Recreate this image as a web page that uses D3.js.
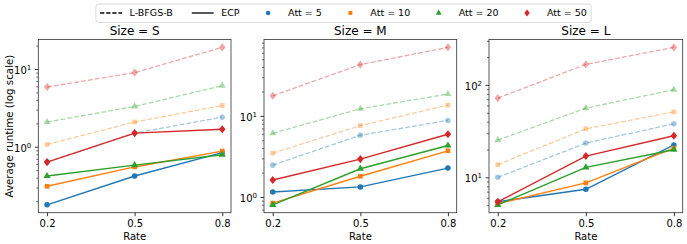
<!DOCTYPE html>
<html>
<head>
<meta charset="utf-8">
<script src="https://cdn.jsdelivr.net/npm/d3@7"></script>
<style>
  body { margin: 0; background: #fff; }
  text { font-family: "DejaVu Sans", sans-serif; fill: #000; }
</style>
</head>
<body>
<svg id="chart" width="687" height="244"></svg>
<script>
const RATES = [0.2, 0.5, 0.8]
const ATTS = [5, 10, 20, 50]
const SIZES = ['S', 'M', 'L']

// rows follow ATTS, columns follow RATES
const LBFGS_S = [[0.635, 1.5, 2.4], [1.07, 2.08, 3.4], [2.08, 3.3, 6.1], [5.87, 9.0, 19.0]]
const ECP_S = [[0.179, 0.42, 0.84], [0.31, 0.55, 0.88], [0.42, 0.58, 0.79], [0.635, 1.5, 1.68]]
const LBFGS_M = [[2.47, 5.77, 8.8], [3.47, 7.59, 13.6], [6.1, 12.25, 18.6], [17.7, 42.9, 70]]
const ECP_M = [[1.15, 1.33, 2.27], [0.84, 1.8, 3.71], [0.8, 2.23, 4.31], [1.62, 2.93, 5.93]]
const LBFGS_L = [[10.0, 23.5, 37.9], [13.7, 33.5, 51.1], [25.3, 56, 89], [71.9, 167, 255]]
const ECP_L = [[5.45, 7.43, 22.4], [5.2, 8.7, 20.7], [5.04, 12.8, 19.9], [5.43, 17.0, 28.2]]

const LBFGS = [LBFGS_S, LBFGS_M, LBFGS_L]
const ECP = [ECP_S, ECP_M, ECP_L]

const COLORS = ['#1f77b4', '#ff7f0e', '#2ca02c', '#d62728']

const W = 687
const TOP = 39.5
const BOTTOM = 212.7
const PANELS = [[38.3, 231], [264, 456.7], [489, 682.7]]

const svg = d3.select('#chart')

// diamond a bit taller than wide, like matplotlib 'D' at small size
const diamond = {
  draw (ctx, size) {
    const h = Math.sqrt(size) * 0.8
    const w = h * 0.8
    ctx.moveTo(0, -h)
    ctx.lineTo(w, 0)
    ctx.lineTo(0, h)
    ctx.lineTo(-w, 0)
    ctx.closePath()
  }
}
const SHAPES = [d3.symbolCircle, d3.symbolSquare, d3.symbolTriangle, diamond]
const SIZES_PX = [24, 22, 22, 26]

function marker (i, scale = 1) {
  return d3.symbol().type(SHAPES[i]).size(SIZES_PX[i] * scale)()
}

function logDomain (values) {
  const lo = Math.log10(d3.min(values))
  const hi = Math.log10(d3.max(values))
  const pad = (hi - lo) * 0.05
  return [10 ** (lo - pad), 10 ** (hi + pad)]
}

function drawPanel (p) {
  const [left, right] = PANELS[p]
  const x = d3.scaleLinear().domain([0.17, 0.83]).range([left, right])
  const all = LBFGS[p].flat().concat(ECP[p].flat())
  const y = d3.scaleLog().domain(logDomain(all)).range([BOTTOM, TOP])
  const g = svg.append('g')

  // minor ticks
  const [d0, d1] = y.domain()
  const minor = []
  const major = []
  for (let e = Math.floor(Math.log10(d0)); e <= Math.ceil(Math.log10(d1)); e++) {
    for (let m = 1; m < 10; m++) {
      const v = m * 10 ** e
      if (v < d0 || v > d1) continue
      if (m === 1) major.push(v)
      else minor.push(v)
    }
  }
  g.append('g')
    .attr('transform', `translate(${left},0)`)
    .call(d3.axisLeft(y).tickValues(minor).tickSize(2).tickFormat(''))
    .call(a => a.select('.domain').remove())
    .selectAll('line').attr('stroke', '#000').attr('stroke-width', 0.6)

  const yAxis = g.append('g')
    .attr('transform', `translate(${left},0)`)
    .call(d3.axisLeft(y).tickValues(major).tickSize(3.5).tickPadding(3.5).tickFormat(''))
  yAxis.select('.domain').remove()
  yAxis.selectAll('line').attr('stroke', '#000').attr('stroke-width', 0.8)
  yAxis.selectAll('.tick text')
    .attr('text-anchor', 'end')
    .attr('font-size', 10)
    .attr('x', -7)
    .attr('dy', '0.45em')
    .each(function (d) {
      const t = d3.select(this)
      t.append('tspan').text('10')
      t.append('tspan').attr('font-size', 7).attr('dy', '-0.6em').text(Math.round(Math.log10(d)))
    })

  const xAxis = g.append('g')
    .attr('transform', `translate(0,${BOTTOM})`)
    .call(d3.axisBottom(x).tickValues(RATES).tickSize(3.5).tickPadding(3.5).tickFormat(d3.format('.1f')))
  xAxis.select('.domain').remove()
  xAxis.selectAll('line').attr('stroke', '#000').attr('stroke-width', 0.8)
  xAxis.selectAll('text').attr('font-size', 10).attr('font-family', '"DejaVu Sans", sans-serif')

  g.append('text')
    .attr('x', (left + right) / 2)
    .attr('y', 239.5)
    .attr('text-anchor', 'middle')
    .attr('font-size', 10)
    .text('Rate')

  g.append('text')
    .attr('x', (left + right) / 2)
    .attr('y', 34.5)
    .attr('text-anchor', 'middle')
    .attr('font-size', 12)
    .text(`Size = ${SIZES[p]}`)

  const line = d3.line().x((d, i) => x(RATES[i])).y(d => y(d))

  // L-BFGS-B: dashed, faded
  LBFGS[p].forEach((row, i) => {
    g.append('path')
      .attr('d', line(row))
      .attr('fill', 'none')
      .attr('stroke', COLORS[i])
      .attr('stroke-opacity', 0.4)
      .attr('stroke-width', 1.3)
      .attr('stroke-dasharray', '4.8,2.1')
    g.selectAll(null).data(row).enter().append('path')
      .attr('d', marker(i))
      .attr('transform', (d, k) => `translate(${x(RATES[k])},${y(d)})`)
      .attr('fill', COLORS[i])
      .attr('fill-opacity', 0.4)
  })

  // ECP: solid
  ECP[p].forEach((row, i) => {
    g.append('path')
      .attr('d', line(row))
      .attr('fill', 'none')
      .attr('stroke', COLORS[i])
      .attr('stroke-width', 1.4)
    g.selectAll(null).data(row).enter().append('path')
      .attr('d', marker(i))
      .attr('transform', (d, k) => `translate(${x(RATES[k])},${y(d)})`)
      .attr('fill', COLORS[i])
  })

  g.append('rect')
    .attr('x', left)
    .attr('y', TOP)
    .attr('width', right - left)
    .attr('height', BOTTOM - TOP)
    .attr('fill', 'none')
    .attr('stroke', '#333')
    .attr('stroke-width', 0.8)
}

PANELS.forEach((d, p) => drawPanel(p))

svg.append('text')
  .attr('transform', `translate(9.5,${(TOP + BOTTOM) / 2}) rotate(-90)`)
  .attr('text-anchor', 'middle')
  .attr('dy', '0.35em')
  .attr('font-size', 10.3)
  .text('Average runtime (log scale)')

// legend
const legend = svg.append('g')
const box = legend.append('rect')
const FS = 9.5
const entries = [
  { label: 'L-BFGS-B', kind: 'dash' },
  { label: 'ECP', kind: 'solid' }
].concat(ATTS.map((a, i) => ({ label: `Att = ${a}`, kind: 'marker', i })))

let cx = 0
const LY = 13
entries.forEach(e => {
  const h = legend.append('g').attr('transform', `translate(${cx},0)`)
  if (e.kind === 'marker') {
    h.append('path')
      .attr('d', marker(e.i, 0.7))
      .attr('transform', `translate(${FS},${LY})`)
      .attr('fill', COLORS[e.i])
  } else {
    h.append('line')
      .attr('x1', 0).attr('x2', FS * 2.3)
      .attr('y1', LY).attr('y2', LY)
      .attr('stroke', '#000')
      .attr('stroke-width', 1.3)
      .attr('stroke-dasharray', e.kind === 'dash' ? '4.2,1.9' : null)
  }
  const t = h.append('text')
    .attr('x', FS * 2.3 + FS * 0.8)
    .attr('y', LY)
    .attr('dy', '0.35em')
    .attr('font-size', FS)
    .text(e.label)
  cx += FS * 3.1 + t.node().getComputedTextLength() + FS * 2
})
const legW = cx - FS * 2
const pad = FS * 0.45
const lx = W / 2 - legW / 2
legend.attr('transform', `translate(${lx},0)`)
box.attr('x', -pad).attr('y', 4)
  .attr('width', legW + pad * 2).attr('height', 18.5)
  .attr('rx', 2.5)
  .attr('fill', '#fff')
  .attr('stroke', '#d0d0d0')
  .attr('stroke-width', 0.8)
</script>
</body>
</html>
